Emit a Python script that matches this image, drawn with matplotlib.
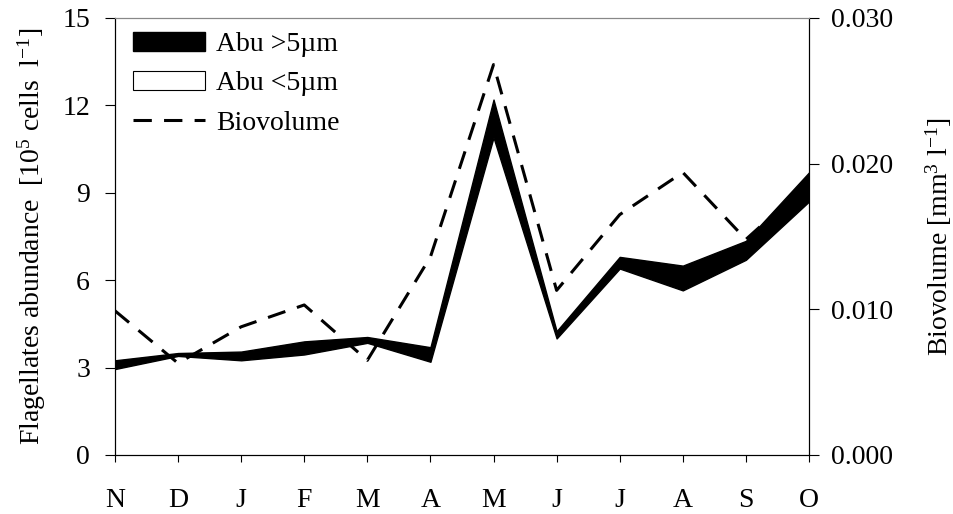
import numpy as np
import matplotlib
matplotlib.use("Agg")
import matplotlib.pyplot as plt
from matplotlib.patches import Patch
from matplotlib.lines import Line2D

plt.rcParams['font.family'] = ['Liberation Serif', 'DejaVu Serif']
plt.rcParams['mathtext.fontset'] = 'custom'
plt.rcParams['mathtext.rm'] = 'Liberation Serif'
plt.rcParams['mathtext.it'] = 'Liberation Serif'
plt.rcParams['mathtext.default'] = 'rm'

# Monthly data, November to October
months = ['N', 'D', 'J', 'F', 'M', 'A', 'M', 'J', 'J', 'A', 'S', 'O']
abu_small = [2.95, 3.4, 3.25, 3.45, 3.85, 3.2, 10.9, 4.0, 6.4, 5.65, 6.7, 8.7]   # Abu <5um (10^5 cells/l)
abu_total = [3.25, 3.5, 3.55, 3.9, 4.05, 3.7, 12.2, 4.25, 6.8, 6.5, 7.35, 9.7]  # small + large
biovolume = [0.0099, 0.0063, 0.0088, 0.0103, 0.0065, 0.0136, 0.0268, 0.0113,
             0.0165, 0.0194, 0.0148, 0.0187]                                  # mm3/l

fs = 20
x = np.arange(len(months))

fig = plt.figure(figsize=(9.54, 5.14), dpi=100)
ax = fig.add_axes([0.1205, 0.1148, 0.7275, 0.8502])

ax.fill_between(x, 0, abu_small, color='white', lw=0)
ax.fill_between(x, abu_small, abu_total, facecolor='black', edgecolor='black', lw=1.0)

ax.set_xlim(0, len(months) - 1)
ax.set_ylim(0, 15)
ax.set_yticks([0, 3, 6, 9, 12, 15])
ax.set_xticks(x)
ax.set_xticklabels(months)
ax.tick_params(axis='x', direction='out', length=5, width=0.8, pad=19, labelsize=fs)
ax.tick_params(axis='y', direction='out', length=7, width=0.8, pad=11, labelsize=fs)
ax.set_ylabel(r'Flagellates abundance  [10$^{5}$ cells  l$^{-1}$]', fontsize=fs, labelpad=10)
for s in ax.spines.values():
    s.set_linewidth(0.8)
ax.spines['top'].set_color('#888888')

ax2 = ax.twinx()
ax2.plot(x, biovolume, color='black', lw=2.2, linestyle=(0, (6, 4)))
ax2.set_ylim(0, 0.030)
ax2.set_yticks([0.0, 0.01, 0.02, 0.03])
ax2.set_yticklabels(['0.000', '0.010', '0.020', '0.030'])
ax2.tick_params(axis='y', direction='out', length=7, width=0.8, pad=9, labelsize=fs)
ax2.set_ylabel(r'Biovolume [mm$^{3}$ l$^{-1}$]', fontsize=fs, labelpad=22)
for s in ax2.spines.values():
    s.set_linewidth(0.8)
ax2.spines['top'].set_color('#888888')

handles = [Patch(facecolor='black', edgecolor='black'),
           Patch(facecolor='white', edgecolor='black', lw=0.8),
           Line2D([0], [0], color='black', lw=2.2, linestyle=(0, (6, 4)))]
labels = ['Abu >5µm', 'Abu <5µm', 'Biovolume']
ax2.legend(handles, labels, loc='upper left', bbox_to_anchor=(0.026, 0.968),
           frameon=False, fontsize=fs, handlelength=2.6, handleheight=0.68,
           handletextpad=0.4, labelspacing=0.5, borderpad=0, borderaxespad=0)

fig.savefig('out.png', dpi=100)
